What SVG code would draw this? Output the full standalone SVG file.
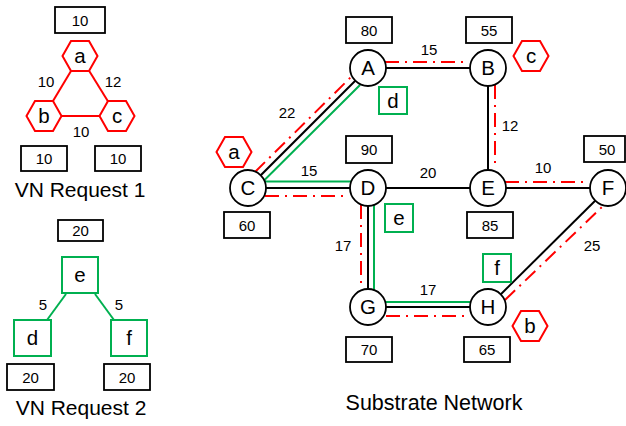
<svg xmlns="http://www.w3.org/2000/svg" width="626" height="426" viewBox="0 0 626 426">
<style>
text { font-family: "Liberation Sans", Arial, sans-serif; fill: #000; text-anchor: middle; }
.num { font-size: 15px; }
.lbl { font-size: 20.5px; }
.title { font-size: 21px; }
.stitle { font-size: 21.5px; }
.box { fill: #fff; stroke: #000; stroke-width: 1.8; }
.node { fill: #fff; stroke: #000; stroke-width: 1.8; }
.sq { fill: #fff; stroke: #00b050; stroke-width: 2; }
.blk { stroke: #000; stroke-width: 2; fill: none; }
.grn { stroke: #00b050; stroke-width: 2; fill: none; }
.red { stroke: #ff0000; stroke-width: 2; stroke-dasharray: 14 6 2 6; fill: none; }
.redsolid { stroke: #ff0000; stroke-width: 2; fill: none; }
</style>
<defs>
<polygon id="hx" points="-17.5,0 -9,-15 9,-15 17.5,0 9,15 -9,15" fill="#fff" stroke="#ff0000" stroke-width="2"/>
</defs>

<!-- VN Request 1 -->
<g id="vn1-edges">
  <line class="redsolid" x1="80" y1="56" x2="44" y2="116"/>
  <line class="redsolid" x1="80" y1="56" x2="117" y2="116"/>
  <line class="redsolid" x1="44" y1="116" x2="117" y2="116"/>
  <text class="num" x="46" y="87">10</text>
  <text class="num" x="113" y="87">12</text>
  <text class="num" x="81" y="137">10</text>
</g>
<g id="vn1-a">
  <rect class="box" x="55" y="7" width="50" height="26"/>
  <text class="num" x="80" y="25.5">10</text>
  <use href="#hx" x="80" y="56"/>
  <text class="lbl" x="80" y="63">a</text>
</g>
<g id="vn1-b">
  <use href="#hx" x="44" y="116"/>
  <text class="lbl" x="44" y="123">b</text>
  <rect class="box" x="21" y="146" width="46" height="25"/>
  <text class="num" x="44" y="164">10</text>
</g>
<g id="vn1-c">
  <use href="#hx" x="117" y="116"/>
  <text class="lbl" x="117" y="123">c</text>
  <rect class="box" x="95" y="146" width="46" height="25"/>
  <text class="num" x="118" y="164">10</text>
</g>
<text class="title" x="80" y="197">VN Request 1</text>

<!-- VN Request 2 -->
<g id="vn2-edges">
  <line class="grn" x1="66" y1="294" x2="47" y2="320"/>
  <line class="grn" x1="95" y1="294" x2="114" y2="320"/>
  <text class="num" x="43" y="310">5</text>
  <text class="num" x="119" y="310">5</text>
</g>
<g id="vn2-e">
  <rect class="box" x="58" y="220" width="45" height="21"/>
  <text class="num" x="80.5" y="236">20</text>
  <rect class="sq" x="62" y="257" width="36" height="36"/>
  <text class="lbl" x="80" y="282">e</text>
</g>
<g id="vn2-d">
  <rect class="sq" x="14" y="320" width="37" height="36"/>
  <text class="lbl" x="32.5" y="345">d</text>
  <rect class="box" x="7" y="364" width="47" height="26"/>
  <text class="num" x="30.5" y="382.5">20</text>
</g>
<g id="vn2-f">
  <rect class="sq" x="111" y="320" width="36" height="36"/>
  <text class="lbl" x="129" y="345">f</text>
  <rect class="box" x="104" y="364" width="46" height="26"/>
  <text class="num" x="127" y="382.5">20</text>
</g>
<text class="title" x="81" y="415">VN Request 2</text>

<!-- Substrate connectors -->
<g id="connectors">
  <line class="blk" x1="368" y1="68" x2="488" y2="68"/>
  <line class="blk" x1="488" y1="68" x2="488" y2="188"/>
  <line class="blk" x1="248" y1="188" x2="368" y2="68"/>
  <line class="blk" x1="248" y1="188" x2="368" y2="188"/>
  <line class="blk" x1="368" y1="188" x2="488" y2="188"/>
  <line class="blk" x1="488" y1="188" x2="608" y2="188"/>
  <line class="blk" x1="368" y1="188" x2="368" y2="307"/>
  <line class="blk" x1="368" y1="307" x2="488" y2="307"/>
  <line class="blk" x1="488" y1="307" x2="608" y2="188"/>
  <!-- VN2 mapping (green) -->
  <polyline class="grn" points="360,85 263,181.5 352,181.5"/>
  <polyline class="grn" points="374,204 374,302 472,302"/>
  <!-- VN1 mapping (red) -->
  <line class="red" x1="255" y1="172" x2="352" y2="76"/>
  <line class="red" x1="385" y1="62" x2="467" y2="62"/>
  <line class="red" x1="265" y1="196" x2="344" y2="196"/>
  <line class="red" x1="361" y1="205" x2="361" y2="287"/>
  <line class="red" x1="386" y1="316" x2="468" y2="316"/>
  <line class="red" x1="505" y1="300" x2="603" y2="206"/>
  <line class="red" x1="505" y1="182" x2="587" y2="182"/>
  <line class="red" x1="495" y1="85" x2="495" y2="167"/>
  <!-- labels -->
  <text class="num" x="429" y="55">15</text>
  <text class="num" x="510" y="131">12</text>
  <text class="num" x="543" y="173">10</text>
  <text class="num" x="428" y="178">20</text>
  <text class="num" x="287" y="118">22</text>
  <text class="num" x="309" y="176">15</text>
  <text class="num" x="343" y="251">17</text>
  <text class="num" x="428" y="295">17</text>
  <text class="num" x="592" y="251">25</text>
</g>

<!-- Substrate nodes -->
<g id="node-A">
  <rect class="box" x="346" y="17" width="46" height="26"/>
  <text class="num" x="369" y="35.5">80</text>
  <circle class="node" cx="368" cy="68" r="18"/>
  <text class="lbl" x="368" y="75">A</text>
</g>
<g id="node-B">
  <rect class="box" x="466" y="17" width="46" height="26"/>
  <text class="num" x="489" y="35.5">55</text>
  <circle class="node" cx="488" cy="68" r="18"/>
  <text class="lbl" x="488" y="75">B</text>
</g>
<g id="node-C">
  <circle class="node" cx="248" cy="188" r="18"/>
  <text class="lbl" x="248" y="195">C</text>
  <rect class="box" x="224" y="212" width="46" height="26"/>
  <text class="num" x="247" y="230.5">60</text>
</g>
<g id="node-D">
  <rect class="box" x="346" y="136" width="46" height="27"/>
  <text class="num" x="369" y="155">90</text>
  <circle class="node" cx="368" cy="188" r="18"/>
  <text class="lbl" x="368" y="195">D</text>
</g>
<g id="node-E">
  <circle class="node" cx="488" cy="188" r="18"/>
  <text class="lbl" x="488" y="195">E</text>
  <rect class="box" x="467" y="212" width="46" height="26"/>
  <text class="num" x="490" y="230.5">85</text>
</g>
<g id="node-F">
  <rect class="box" x="584" y="136" width="41" height="26"/>
  <text class="num" x="607" y="154.5">50</text>
  <circle class="node" cx="608" cy="188" r="18"/>
  <text class="lbl" x="608" y="195">F</text>
</g>
<g id="node-G">
  <circle class="node" cx="368" cy="307" r="18"/>
  <text class="lbl" x="368" y="314">G</text>
  <rect class="box" x="346" y="337" width="46" height="25"/>
  <text class="num" x="369" y="355">70</text>
</g>
<g id="node-H">
  <circle class="node" cx="488" cy="307" r="18"/>
  <text class="lbl" x="488" y="314">H</text>
  <rect class="box" x="464" y="337" width="46" height="25"/>
  <text class="num" x="487" y="355">65</text>
</g>

<!-- Mapping markers -->
<g id="map-a">
  <use href="#hx" x="234" y="152"/>
  <text class="lbl" x="234" y="159">a</text>
</g>
<g id="map-b">
  <use href="#hx" x="530" y="326"/>
  <text class="lbl" x="530" y="333">b</text>
</g>
<g id="map-c">
  <use href="#hx" x="531" y="56"/>
  <text class="lbl" x="531" y="63">c</text>
</g>
<g id="map-d">
  <rect class="sq" x="379" y="87" width="28" height="27"/>
  <text class="lbl" x="393" y="108">d</text>
</g>
<g id="map-e">
  <rect class="sq" x="385" y="204" width="28" height="28"/>
  <text class="lbl" x="399" y="225">e</text>
</g>
<g id="map-f">
  <rect class="sq" x="483" y="254" width="28" height="28"/>
  <text class="lbl" x="497" y="275">f</text>
</g>

<text class="stitle" x="434" y="410">Substrate Network</text>
</svg>
